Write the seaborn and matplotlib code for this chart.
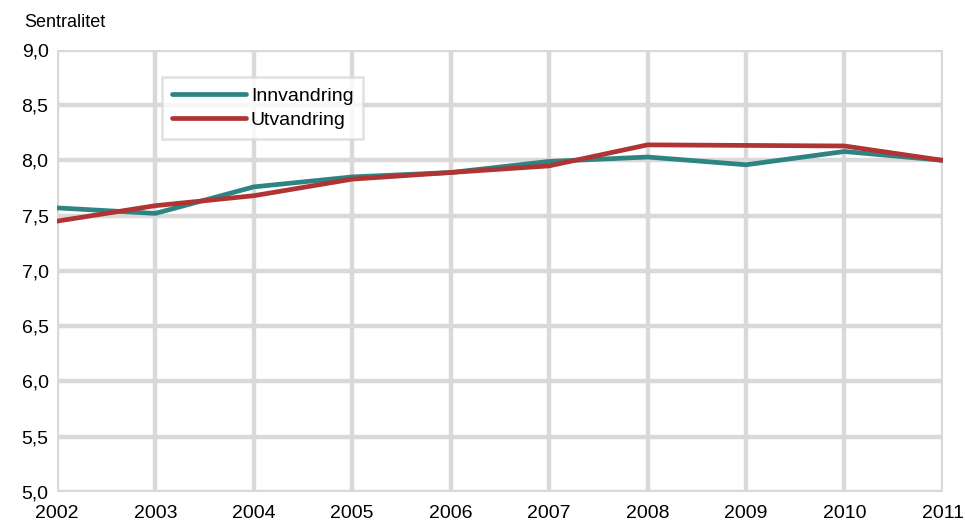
import pandas as pd
import seaborn as sns
import matplotlib.pyplot as plt

years = [2002, 2003, 2004, 2005, 2006, 2007, 2008, 2009, 2010, 2011]
innvandring = [7.57, 7.52, 7.76, 7.85, 7.89, 7.99, 8.03, 7.96, 8.08, 8.00]
utvandring = [7.45, 7.59, 7.68, 7.83, 7.89, 7.95, 8.14, 8.135, 8.13, 8.00]
y_ticks = [5.0, 5.5, 6.0, 6.5, 7.0, 7.5, 8.0, 8.5, 9.0]

df = pd.DataFrame({'year': years * 2,
                   'value': innvandring + utvandring,
                   'serie': ['Innvandring'] * len(years) + ['Utvandring'] * len(years)})

sns.set_style('white')
plt.rcParams['font.family'] = ['Liberation Sans', 'DejaVu Sans']

fig = plt.figure(figsize=(9.65, 5.24), dpi=100)
ax = fig.add_axes([0.059, 0.061, 0.918, 0.844])

sns.lineplot(data=df, x='year', y='value', hue='serie', ax=ax,
             palette={'Innvandring': '#2e8482', 'Utvandring': '#b03434'},
             linewidth=3.4, zorder=3)

ax.set_xlim(2002, 2011)
ax.set_ylim(5.0, 9.0)
ax.set_xticks(years)
ax.set_xticklabels([str(y) for y in years], fontsize=14, color='black')
ax.set_yticks(y_ticks)
ax.set_yticklabels([f'{v:.1f}'.replace('.', ',') for v in y_ticks],
                   fontsize=14, color='black')
ax.tick_params(axis='x', length=0, pad=9)
ax.tick_params(axis='y', length=0, pad=6)
ax.grid(True, color='#d9d9d9', linewidth=3.2)
for s in ax.spines.values():
    s.set_visible(False)
ax.set_xlabel('')
ax.set_ylabel('')

leg = ax.legend(loc='upper left', bbox_to_anchor=(0.119, 0.938), fontsize=14,
                frameon=True, fancybox=False, handlelength=3.8,
                borderpad=0.5, labelspacing=0.35, handletextpad=0.25,
                borderaxespad=0)
leg.get_frame().set_edgecolor('#d9d9d9')
leg.get_frame().set_linewidth(1.8)
for text in leg.get_texts():
    text.set_color('black')
for line in leg.get_lines():
    line.set_linewidth(3.4)

fig.text(0.025, 0.958, 'Sentralitet', fontsize=13, va='center', ha='left',
         color='black')

fig.savefig('out.png', dpi=100)
